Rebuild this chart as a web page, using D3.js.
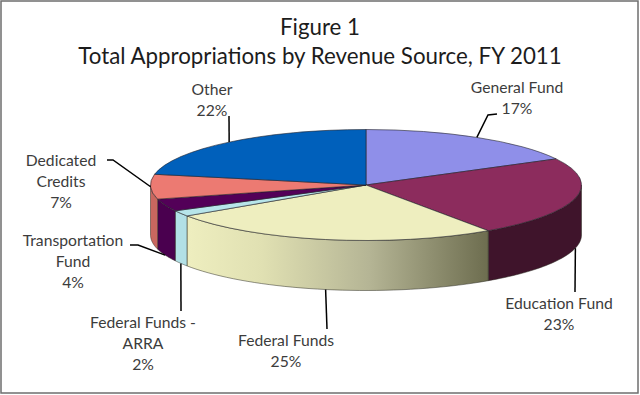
<!DOCTYPE html>
<html>
<head>
<meta charset="utf-8">
<script src="https://cdn.jsdelivr.net/npm/d3@7"></script>
<style>
  html, body { margin: 0; padding: 0; background: #fff; }
  svg { display: block; }
  text { font-family: Lato, "Open Sans", sans-serif; }
</style>
</head>
<body>
<svg id="chart"></svg>
<script>
const categories = ["General Fund", "Education Fund", "Federal Funds", "Federal Funds - ARRA", "Transportation Fund", "Dedicated Credits", "Other"];
// slice sizes, the printed labels are rounded
const shares = [17.2, 23.2, 25.2, 1.7, 3.6, 7.2, 21.9];
const titleLines = ["Figure 1", "Total Appropriations by Revenue Source, FY 2011"];

const topColors = ["#8f8fe9", "#8c2c5d", "#eeeebf", "#b7e5ea", "#530058", "#ec7a72", "#0060bb"];
const sideColors = ["#5a5a90", "#3f142b", "url(#federal-side)", "#b2e0e6", "#4a004f", "#c9675f", "#00407f"];

// label text lines, centre x, first baseline and the elbow of the leader
const labelLayout = [
    { lines: ["General Fund", "17%"], x: 517, y: 93, step: 21, elbow: [[488, 115], [497, 114]] },
    { lines: ["Education Fund", "23%"], x: 559, y: 309, step: 21, elbow: [[575, 292]] },
    { lines: ["Federal Funds", "25%"], x: 286, y: 346, step: 21, elbow: [[327, 329]] },
    { lines: ["Federal Funds -", "ARRA", "2%"], x: 143, y: 328, step: 21, elbow: [[181, 311]] },
    { lines: ["Transportation", "Fund", "4%"], x: 73, y: 246, step: 21, elbow: [[138, 245], [130, 245]] },
    { lines: ["Dedicated", "Credits", "7%"], x: 61, y: 166, step: 21, elbow: [[113, 160], [107, 160]], topRim: true },
    { lines: ["Other", "22%"], x: 212, y: 95, step: 21, elbow: [[229, 116]] }
];

const width = 640, height = 395;
const cx = 366, cy = 185, rx = 215.5, ry = 55.5, depth = 50;

const svg = d3.select("#chart").attr("width", width).attr("height", height);

svg.append("rect")
    .attr("x", 1).attr("y", 1)
    .attr("width", width - 3).attr("height", height - 3)
    .attr("fill", "#fff").attr("stroke", "#6e6e6e").attr("stroke-width", 1.5);

const defs = svg.append("defs");
const grad = defs.append("linearGradient")
    .attr("id", "federal-side")
    .attr("gradientUnits", "userSpaceOnUse")
    .attr("x1", 187).attr("x2", 490).attr("y1", 0).attr("y2", 0);
grad.append("stop").attr("offset", "0%").attr("stop-color", "#eeeebf");
grad.append("stop").attr("offset", "25%").attr("stop-color", "#e0e0b2");
grad.append("stop").attr("offset", "60%").attr("stop-color", "#b5b595");
grad.append("stop").attr("offset", "100%").attr("stop-color", "#6c6c4e");

svg.append("g")
    .attr("text-anchor", "middle")
    .attr("fill", "#1c1c1c")
    .style("font-size", "22.3px")
    .selectAll("text")
    .data(titleLines)
    .join("text")
    .attr("x", 320)
    .attr("y", (d, i) => 35 + i * 29)
    .text(d => d);

const pie = d3.pie().sort(null)(shares);

// angle measured clockwise from twelve o'clock, as d3.pie gives it
const rimX = a => cx + rx * Math.sin(a);
const rimY = a => cy - ry * Math.cos(a);

const sideLine = d3.line();
const frontFrom = Math.PI / 2, frontTo = Math.PI * 3 / 2;

const sides = svg.append("g");
pie.forEach((slice, i) => {
    const a0 = Math.max(slice.startAngle, frontFrom);
    const a1 = Math.min(slice.endAngle, frontTo);
    if (a1 <= a0) return;
    const angles = d3.range(0, 41).map(k => a0 + (a1 - a0) * k / 40);
    const upper = angles.map(a => [rimX(a), rimY(a)]);
    const lower = angles.slice().reverse().map(a => [rimX(a), rimY(a) + depth]);
    sides.append("path")
        .attr("d", sideLine(upper.concat(lower)) + "Z")
        .attr("fill", sideColors[i])
        .attr("stroke", "#2a2a20")
        .attr("stroke-width", 0.5)
        .attr("stroke-linejoin", "round");
});

const arc = d3.arc().innerRadius(0).outerRadius(rx);
svg.append("g")
    .attr("transform", `translate(${cx},${cy}) scale(1,${ry / rx})`)
    .selectAll("path")
    .data(pie)
    .join("path")
    .attr("d", arc)
    .attr("fill", (d, i) => topColors[i])
    .attr("stroke", "#22222a")
    .attr("stroke-width", 0.6)
    .attr("vector-effect", "non-scaling-stroke");

// leaders start on the rim at the slice's middle angle, on the wall when it faces us
const leaderLine = d3.line();
svg.append("g")
    .selectAll("path")
    .data(pie)
    .join("path")
    .attr("d", (d, i) => {
        const mid = (d.startAngle + d.endAngle) / 2;
        const onWall = mid > frontFrom && mid < frontTo && !labelLayout[i].topRim;
        const start = [rimX(mid), rimY(mid) + (onWall ? depth : 0)];
        return leaderLine([start].concat(labelLayout[i].elbow));
    })
    .attr("fill", "none")
    .attr("stroke", "#000")
    .attr("stroke-width", 1.5);

const labels = svg.append("g")
    .attr("text-anchor", "middle")
    .attr("fill", "#3c3c3c")
    .style("font-size", "15.7px");

labelLayout.forEach(l => {
    labels.selectAll(null)
        .data(l.lines)
        .join("text")
        .attr("x", l.x)
        .attr("y", (d, i) => l.y + i * l.step)
        .text(d => d);
});
</script>
</body>
</html>
